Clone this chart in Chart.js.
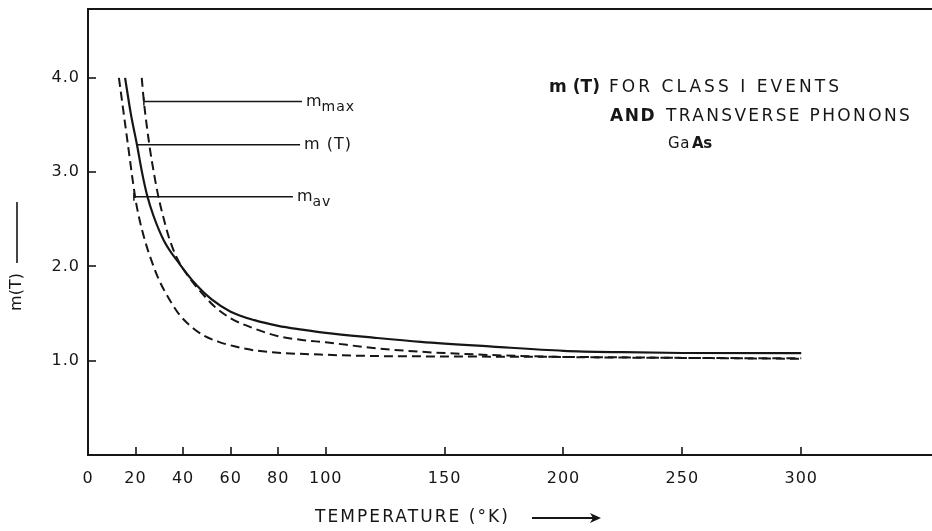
<!DOCTYPE html>
<html>
<head>
<meta charset="utf-8">
<script src="https://cdn.jsdelivr.net/npm/chart.js@4.4.1/dist/chart.umd.min.js"></script>
<style>
  html, body { margin: 0; padding: 0; background: #fff; }
  #wrap { width: 932px; height: 531px; }
</style>
</head>
<body>
<div id="wrap"><canvas id="mtChart" width="932" height="531"></canvas></div>
<script>
// m(T) vs temperature for class I events, transverse phonons, GaAs

// axis ticks
const xTicks = [0, 20, 40, 60, 80, 100, 150, 200, 250, 300];
const yTicks = [1, 2, 3, 4];

// m(T) - solid curve
const mtTemp = [15.6, 18, 20.6, 22.7, 24.8, 27.5, 32, 38.7, 45.7, 52, 60, 70, 80, 90, 100, 120, 140, 170, 200, 225, 250, 300];
const mtVal  = [4.0, 3.62, 3.29, 3.0, 2.76, 2.54, 2.27, 2.02, 1.80, 1.65, 1.52, 1.43, 1.37, 1.33, 1.295, 1.245, 1.20, 1.15, 1.105, 1.09, 1.082, 1.08];

// m_max - upper dashed curve
const maxTemp = [22.6, 23.5, 25.8, 28, 29.6, 31.3, 34, 37.4, 42.9, 47.8, 53, 60, 70, 80, 90, 100, 120, 140, 170, 200, 250, 300];
const maxVal  = [4.0, 3.75, 3.29, 2.95, 2.74, 2.56, 2.31, 2.09, 1.87, 1.72, 1.58, 1.45, 1.34, 1.26, 1.22, 1.195, 1.135, 1.095, 1.06, 1.04, 1.03, 1.025];

// m_av - lower dashed curve
const avTemp = [13, 16.8, 19.8, 21.2, 24, 27, 30, 34, 38.7, 44, 48.5, 55, 62, 70, 80, 97.6, 120, 150, 200, 250, 300];
const avVal  = [4.0, 3.29, 2.74, 2.55, 2.27, 2.04, 1.85, 1.66, 1.48, 1.35, 1.27, 1.2, 1.15, 1.11, 1.085, 1.065, 1.05, 1.045, 1.04, 1.03, 1.02];

// label pointers (level, from T, to T)
const ptrLevel = [3.75, 3.29, 2.74];
const ptrFrom  = [23.5, 20.6, 19.3];
const ptrTo    = [90, 89.2, 86.2];
const ptrMain  = ['m', 'm (T)', 'm'];
const ptrSub   = ['max', '', 'av'];
const ptrCap   = [4, 0, 4];

const ink = '#161616';
const FONT = '"DejaVu Sans", sans-serif';

function pts(xs, ys) {
    return xs.map((t, i) => ({x: t, y: ys[i]}));
}

// draw text stretched to a given width with letter spacing
function fitText(ctx, text, x, y, w) {
    ctx.letterSpacing = '0px';
    const m = ctx.measureText(text).width;
    ctx.letterSpacing = ((w - m) / text.length).toFixed(2) + 'px';
    ctx.fillText(text, x, y);
    ctx.letterSpacing = '0px';
}

function seg(ctx, x1, y1, x2, y2) {
    ctx.beginPath();
    ctx.moveTo(x1, y1);
    ctx.lineTo(x2, y2);
    ctx.stroke();
}

function noPad(s) {
    s.paddingTop = 0;
    s.paddingBottom = 0;
    s.paddingLeft = 0;
    s.paddingRight = 0;
}

const decor = {
    id: 'decor',
    beforeDraw(chart) {
        chart.ctx.letterSpacing = '1px';
    },
    afterDraw(chart) {
        const {ctx, chartArea: a, scales: {x, y}} = chart;
        ctx.save();
        ctx.strokeStyle = ink;
        ctx.fillStyle = ink;

        // frame: top, left, bottom (open on the right)
        ctx.lineWidth = 2;
        ctx.beginPath();
        ctx.moveTo(a.right, a.top);
        ctx.lineTo(a.left, a.top);
        ctx.lineTo(a.left, a.bottom);
        ctx.lineTo(a.right, a.bottom);
        ctx.stroke();

        // inward tick marks
        ctx.lineWidth = 1.6;
        xTicks.filter(v => v > 0).forEach(v => {
            const px = Math.round(x.getPixelForValue(v));
            seg(ctx, px, a.bottom, px, a.bottom - 8);
        });
        yTicks.forEach(v => {
            const py = Math.round(y.getPixelForValue(v));
            seg(ctx, a.left, py, a.left + 8, py);
        });

        // pointer labels
        ctx.textAlign = 'left';
        ctx.textBaseline = 'middle';
        ptrLevel.forEach((lv, i) => {
            const px = x.getPixelForValue(ptrTo[i]) + 4;
            const py = y.getPixelForValue(lv);
            ctx.font = '16px ' + FONT;
            ctx.letterSpacing = '1px';
            ctx.fillText(ptrMain[i], px, py);
            if (ptrSub[i]) {
                const w = ctx.measureText(ptrMain[i]).width;
                ctx.font = '14px ' + FONT;
                ctx.fillText(ptrSub[i], px + w - 1, py + 6);
            }
        });

        // title block
        ctx.font = 'bold 17px ' + FONT;
        fitText(ctx, 'm (T)', 549, 88, 51);
        ctx.font = '17px ' + FONT;
        fitText(ctx, 'FOR CLASS I EVENTS', 609, 88, 233);
        ctx.font = 'bold 17px ' + FONT;
        fitText(ctx, 'AND', 610, 117, 46);
        ctx.font = '17px ' + FONT;
        fitText(ctx, 'TRANSVERSE PHONONS', 666, 117, 246);
        ctx.font = '15px ' + FONT;
        fitText(ctx, 'Ga', 668, 144, 22);
        ctx.font = 'bold 15px ' + FONT;
        fitText(ctx, 'As', 692, 144, 20);

        // x axis title with arrow
        ctx.font = '17px ' + FONT;
        fitText(ctx, 'TEMPERATURE (°K)', 315, 518, 195);
        ctx.lineWidth = 2;
        seg(ctx, 532, 518, 594, 518);
        ctx.beginPath();
        ctx.moveTo(601, 518);
        ctx.lineTo(590, 513);
        ctx.lineTo(593, 518);
        ctx.lineTo(590, 523);
        ctx.closePath();
        ctx.fill();

        // y axis title, rotated
        ctx.save();
        ctx.translate(17, 292);
        ctx.rotate(-Math.PI / 2);
        ctx.font = '16px ' + FONT;
        ctx.textAlign = 'center';
        ctx.letterSpacing = '0px';
        ctx.fillText('m(T)', 0, 0);
        ctx.lineWidth = 1.6;
        seg(ctx, 29, 0, 90, 0);
        ctx.restore();

        ctx.restore();
    }
};

const curveBase = {
    showLine: true,
    borderColor: ink,
    pointRadius: 0,
    cubicInterpolationMode: 'monotone',
    fill: false
};

const datasets = [
    Object.assign({label: 'm(T)', data: pts(mtTemp, mtVal), borderWidth: 2.2}, curveBase),
    Object.assign({label: 'm max', data: pts(maxTemp, maxVal), borderWidth: 2, borderDash: [9, 5]}, curveBase),
    Object.assign({label: 'm av', data: pts(avTemp, avVal), borderWidth: 2, borderDash: [9, 5]}, curveBase)
];

ptrLevel.forEach((lv, i) => {
    datasets.push({
        label: 'pointer ' + i,
        data: [{x: ptrFrom[i], y: lv}, {x: ptrTo[i], y: lv}],
        showLine: true,
        borderColor: ink,
        borderWidth: 1.5,
        pointStyle: 'line',
        rotation: 90,
        pointRadius: c => c.dataIndex === 0 ? ptrCap[i] : 0,
        pointBorderColor: ink,
        pointBorderWidth: 1.5
    });
});

new Chart(document.getElementById('mtChart'), {
    type: 'scatter',
    data: {datasets: datasets},
    options: {
        responsive: false,
        animation: false,
        devicePixelRatio: 1,
        layout: {autoPadding: false, padding: {top: 9, left: 0, right: 0, bottom: 0}},
        plugins: {
            legend: {display: false},
            tooltip: {enabled: false}
        },
        scales: {
            x: {
                type: 'linear',
                min: 0,
                max: 355,
                grid: {display: false, drawTicks: false},
                border: {display: false},
                afterBuildTicks: s => { s.ticks = xTicks.map(v => ({value: v})); },
                afterFit: s => { s.height = 76; noPad(s); },
                ticks: {
                    color: ink,
                    font: {family: 'DejaVu Sans', size: 16},
                    padding: 14,
                    maxRotation: 0,
                    autoSkip: false,
                    callback: v => String(v)
                }
            },
            y: {
                type: 'linear',
                min: 0,
                max: 4.73,
                grid: {display: false, drawTicks: false},
                border: {display: false},
                afterBuildTicks: s => { s.ticks = yTicks.map(v => ({value: v})); },
                afterFit: s => { s.width = 88; noPad(s); },
                ticks: {
                    color: ink,
                    font: {family: 'DejaVu Sans', size: 16},
                    padding: 8,
                    autoSkip: false,
                    callback: v => v.toFixed(1)
                }
            }
        }
    },
    plugins: [decor]
});
</script>
</body>
</html>
